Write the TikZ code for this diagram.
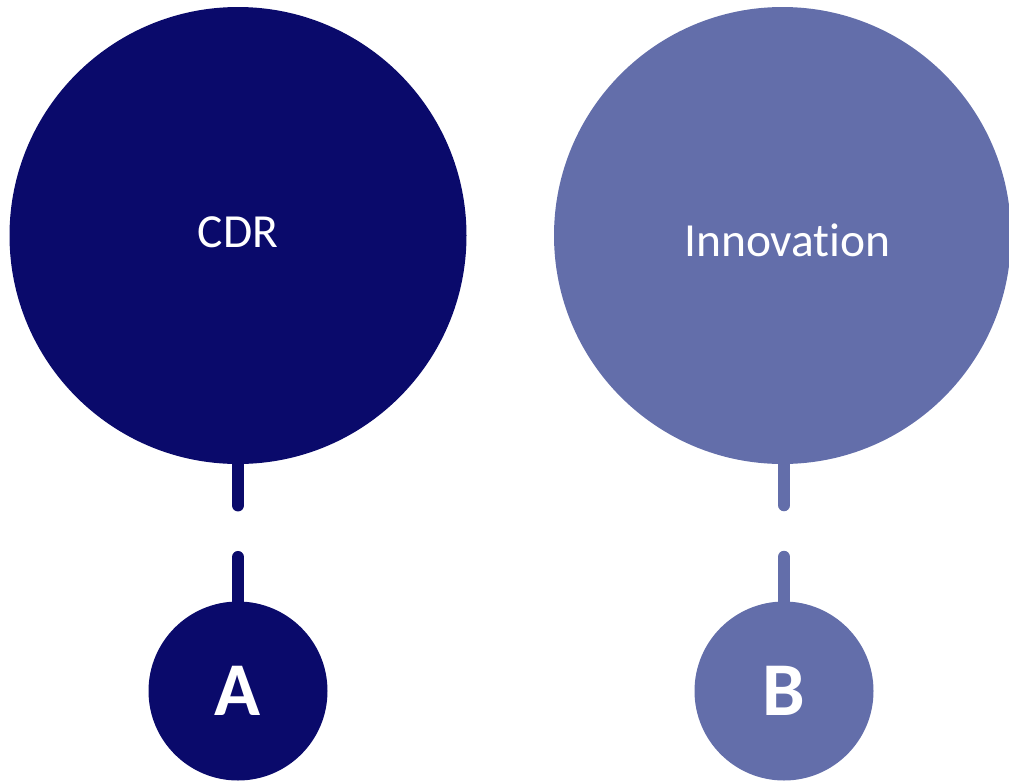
\documentclass[tikz,border=0pt]{standalone}
\usepackage{fontspec}
\setmainfont{Carlito}[Ligatures={NoCommon}]
\usetikzlibrary{calc}
\definecolor{navy}{HTML}{0A0A6B}
\definecolor{lavender}{HTML}{636EAA}
\begin{document}
\begin{tikzpicture}[x=1pt,y=-1pt,
        bc/.style={circle,inner sep=0pt,minimum size=457pt},
        tx/.style={text=white,font=\fontsize{47.5}{56}\selectfont},
        sc/.style={circle,inner sep=0pt,minimum size=179pt,text=white,font=\fontsize{76}{90}\selectfont\bfseries},
        lk/.style={line width=12.5pt,line cap=round,dash pattern=on 41pt off 52pt on 100pt}]
            \useasboundingbox (0,0) rectangle (1009,782);

            \node[bc,fill=navy,label={[tx,yshift=3pt]center:CDR}](cdr) at (238,235.5){};
            \node[bc,fill=lavender,label={[tx,xshift=5pt,yshift=-5pt]center:Innovation}](inno) at (782.5,235.5){};

            \node[sc,fill=navy](a) at (238,691){A};
            \node[sc,fill=lavender](b) at (784,691){B};

            \draw[lk,navy] (cdr.south) -- (a.north);
            \draw[lk,lavender] (784,464) -- (b.north);
        \end{tikzpicture}
\end{document}
